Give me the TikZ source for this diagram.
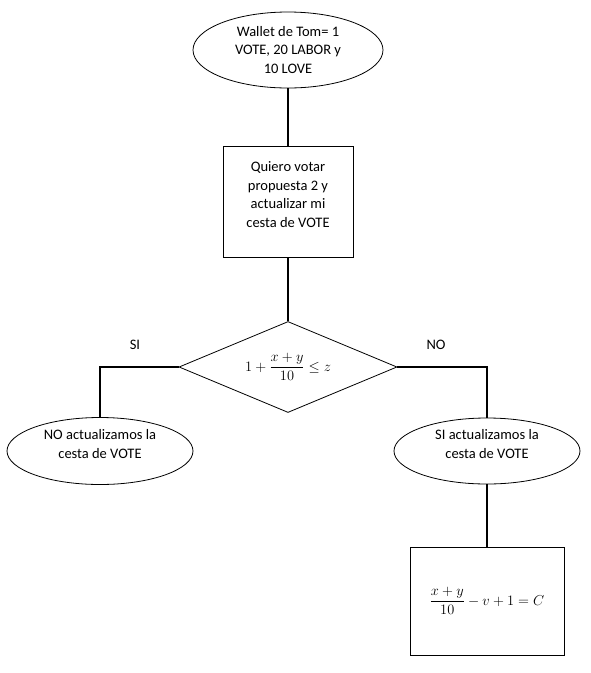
\documentclass[tikz,border=0pt]{standalone}
\usepackage{amsmath}
\usepackage{fontspec}
\setmainfont{Carlito}
\usetikzlibrary{shapes.geometric}
\tikzset{
  texto/.style = {font=\fontsize{14.5}{18.5}\selectfont, align=center},
  elipse/.style = {texto, draw, ellipse, line width=0.8pt, inner sep=0pt},
  caja/.style = {texto, draw, rectangle, line width=0.8pt, inner sep=0pt},
  rombo/.style = {draw, diamond, shape aspect=2.4, line width=0.8pt, inner sep=0pt},
  conector/.style = {line width=2.6pt}
}
\begin{document}
\begin{tikzpicture}[x=1pt, y=-1pt]
    \useasboundingbox (0,0) rectangle (591,673);

    % Start: Tom's wallet
    \node[elipse, minimum width=190pt, minimum height=76pt] (wallet) at (288, 50)
        {Wallet de Tom= 1\\VOTE, 20 LABOR y\\10 LOVE};

    % Process: vote request (text sits a bit high in the box)
    \node[caja, minimum width=130pt, minimum height=111pt] (votar) at (288, 202)
        {Quiero votar\\propuesta 2 y\\actualizar mi\\cesta de VOTE\\[-4pt]\mbox{}};

    % Decision
    \node[rombo, minimum width=218pt, minimum height=91pt] (decision) at (288, 367)
        {\fontsize{13.5}{15}\selectfont $1+\dfrac{x+y}{10}\leq z$};

    % Outcomes
    \node[elipse, minimum width=186pt, minimum height=67pt] (noact) at (100, 451)
        {NO actualizamos la\\cesta de VOTE\\[-4pt]\mbox{}};
    \node[elipse, minimum width=186pt, minimum height=66pt] (siact) at (487, 451)
        {SI actualizamos la\\cesta de VOTE\\[-4pt]\mbox{}};
    \node[caja, minimum width=154pt, minimum height=108pt] (cesta) at (487, 601)
        {\fontsize{14}{16}\selectfont $\dfrac{x+y}{10}-v+1=C$};

    % Branch labels
    \node[texto] (si) at (135, 345) {SI};
    \node[texto] (no) at (436, 345) {NO};

    % Connectors
    \draw[conector] (wallet.south) -- (votar.north);
    \draw[conector] (votar.south) -- (decision.north);
    \draw[conector] (decision.west) -| (noact.north);
    \draw[conector] (decision.east) -| (siact.north);
    \draw[conector] (siact.south) -- (cesta.north);
\end{tikzpicture}
\end{document}
